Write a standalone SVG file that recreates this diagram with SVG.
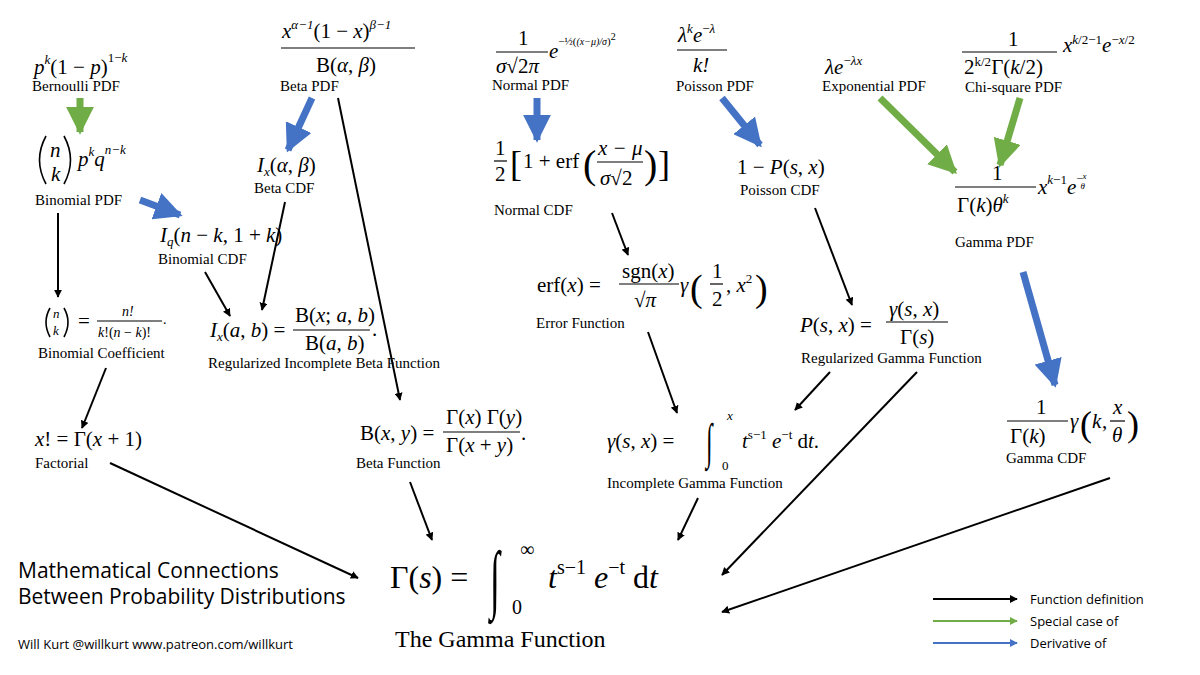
<svg xmlns="http://www.w3.org/2000/svg" width="1200" height="675" viewBox="0 0 1200 675">
<style>
.m{font-family:"Liberation Serif",serif;font-size:21px;fill:#000}
.i{font-style:italic}
.s{font-size:13px}
.l{font-family:"Liberation Serif",serif;font-size:15px;fill:#000}
.sans{font-family:"Open Sans","Liberation Sans",sans-serif;fill:#000}
.k{stroke:#000;stroke-width:2;fill:none}
.b{stroke:#4472c4;stroke-width:7;fill:none}
.g{stroke:#70ad47;stroke-width:7;fill:none}
.fr{stroke:#000;stroke-width:1.2}
.pr{stroke:#000;stroke-width:1.6;fill:none}
</style>
<defs>
<marker id="ak" viewBox="0 0 10 10" refX="9" refY="5" markerWidth="8" markerHeight="8" markerUnits="userSpaceOnUse" orient="auto"><path d="M0,0L10,5L0,10z" fill="#000"/></marker>
<marker id="ab" viewBox="0 0 10 10" refX="9" refY="5" markerWidth="4" markerHeight="4" orient="auto"><path d="M0,0L10,5L0,10z" fill="#4472c4"/></marker>
<marker id="ag" viewBox="0 0 10 10" refX="9" refY="5" markerWidth="4" markerHeight="4" orient="auto"><path d="M0,0L10,5L0,10z" fill="#70ad47"/></marker>
<marker id="akl" viewBox="0 0 10 10" refX="9" refY="5" markerWidth="8" markerHeight="8" markerUnits="userSpaceOnUse" orient="auto"><path d="M0,0L10,5L0,10z" fill="#70ad47"/></marker>
<marker id="abl" viewBox="0 0 10 10" refX="9" refY="5" markerWidth="8" markerHeight="8" markerUnits="userSpaceOnUse" orient="auto"><path d="M0,0L10,5L0,10z" fill="#4472c4"/></marker>
</defs>
<rect width="1200" height="675" fill="#fff"/>

<g id="connectors">
<line class="g" x1="80" y1="98" x2="80" y2="132" marker-end="url(#ag)"/>
<line class="b" x1="140" y1="200" x2="180" y2="215" marker-end="url(#ab)"/>
<line class="b" x1="312" y1="98" x2="288" y2="150" marker-end="url(#ab)"/>
<line class="b" x1="537" y1="98" x2="537" y2="140" marker-end="url(#ab)"/>
<line class="b" x1="722" y1="98" x2="760" y2="145" marker-end="url(#ab)"/>
<line class="g" x1="880" y1="98" x2="955" y2="172" marker-end="url(#ag)"/>
<line class="g" x1="1020" y1="98" x2="1000" y2="165" marker-end="url(#ag)"/>
<line class="b" x1="1023" y1="272" x2="1055" y2="385" marker-end="url(#ab)"/>
<line class="k" x1="58" y1="213" x2="58" y2="297" marker-end="url(#ak)"/>
<line class="k" x1="205" y1="272" x2="230" y2="316" marker-end="url(#ak)"/>
<line class="k" x1="285" y1="202" x2="262" y2="310" marker-end="url(#ak)"/>
<line class="k" x1="338" y1="98" x2="400" y2="400" marker-end="url(#ak)"/>
<line class="k" x1="106" y1="368" x2="82" y2="428" marker-end="url(#ak)"/>
<line class="k" x1="612" y1="213" x2="628" y2="255" marker-end="url(#ak)"/>
<line class="k" x1="648" y1="332" x2="677" y2="413" marker-end="url(#ak)"/>
<line class="k" x1="815" y1="208" x2="852" y2="305" marker-end="url(#ak)"/>
<line class="k" x1="830" y1="372" x2="795" y2="410" marker-end="url(#ak)"/>
<line class="k" x1="917" y1="372" x2="722" y2="575" marker-end="url(#ak)"/>
<line class="k" x1="698" y1="498" x2="678" y2="540" marker-end="url(#ak)"/>
<line class="k" x1="1110" y1="478" x2="722" y2="612" marker-end="url(#ak)"/>
<line class="k" x1="110" y1="463" x2="358" y2="578" marker-end="url(#ak)"/>
<line class="k" x1="410" y1="482" x2="432" y2="540" marker-end="url(#ak)"/>
</g>

<g id="bernoulli">
<text class="m" x="34" y="74"><tspan class="i">p</tspan><tspan class="i s" dy="-10">k</tspan><tspan dy="10">(1 − </tspan><tspan class="i">p</tspan><tspan>)</tspan><tspan class="s" dy="-12">1−</tspan><tspan class="s i">k</tspan></text>
<text class="l" x="32" y="91">Bernoulli PDF</text>
</g>
<g id="binomial-pdf">
<path class="pr" d="M46,136 Q33,160 46,184"/>
<text class="m i" x="50" y="157">n</text><text class="m i" x="51" y="181">k</text>
<path class="pr" d="M64,136 Q77,160 64,184"/>
<text class="m" x="78" y="166"><tspan class="i">p</tspan><tspan class="i s" dy="-10">k</tspan><tspan class="i" dy="10">q</tspan><tspan class="i s" dy="-12">n−k</tspan></text>
<text class="l" x="35" y="205">Binomial PDF</text>
</g>
<g id="binomial-cdf">
<text class="m" x="160" y="242"><tspan class="i">I</tspan><tspan class="i s" dy="4">q</tspan><tspan dy="-4">(</tspan><tspan class="i">n</tspan> − <tspan class="i">k</tspan>, 1 + <tspan class="i">k</tspan>)</text>
<text class="l" x="158" y="264">Binomial CDF</text>
</g>
<g id="beta-pdf">
<text class="m" x="282" y="38"><tspan class="i">x</tspan><tspan class="i s" dy="-9">α−1</tspan><tspan dy="9">(1 − </tspan><tspan class="i">x</tspan>)<tspan class="i s" dy="-9">β−1</tspan></text>
<line class="fr" x1="281" y1="48" x2="415" y2="48"/>
<text class="m" x="316" y="72">B(<tspan class="i">α</tspan>, <tspan class="i">β</tspan>)</text>
<text class="l" x="280" y="91">Beta PDF</text>
</g>
<g id="beta-cdf">
<text class="m" x="257" y="172"><tspan class="i">I</tspan><tspan class="i s" dy="4">x</tspan><tspan dy="-4">(</tspan><tspan class="i">α</tspan>, <tspan class="i">β</tspan>)</text>
<text class="l" x="254" y="193">Beta CDF</text>
</g>
<g id="binomial-coefficient">
<path class="pr" d="M50,308 Q42,322 50,337"/>
<text class="m i s" x="53" y="318">n</text><text class="m i s" x="53" y="335">k</text>
<path class="pr" d="M64,308 Q72,322 64,337"/>
<text class="m" x="78" y="328">=</text>
<text class="m i" x="122" y="316" style="font-size:14px">n!</text>
<line class="fr" x1="97" y1="321" x2="162" y2="321"/>
<text class="m" x="98" y="337" style="font-size:14px"><tspan class="i">k</tspan>!(<tspan class="i">n</tspan> − <tspan class="i">k</tspan>)!</text>
<text class="m" x="163" y="324" style="font-size:14px">.</text>
<text class="l" x="38" y="358">Binomial Coefficient</text>
</g>
<g id="reg-inc-beta">
<text class="m" x="210" y="337"><tspan class="i">I</tspan><tspan class="i s" dy="4">x</tspan><tspan dy="-4">(</tspan><tspan class="i">a</tspan>, <tspan class="i">b</tspan>) =</text>
<text class="m" x="295" y="322">B(<tspan class="i">x</tspan>; <tspan class="i">a</tspan>, <tspan class="i">b</tspan>)</text>
<line class="fr" x1="293" y1="330" x2="370" y2="330"/>
<text class="m" x="305" y="350">B(<tspan class="i">a</tspan>, <tspan class="i">b</tspan>)</text>
<text class="m" x="372" y="336">.</text>
<text class="l" x="208" y="368">Regularized Incomplete Beta Function</text>
</g>
<g id="factorial">
<text class="m" x="35" y="446"><tspan class="i">x</tspan>! = Γ(<tspan class="i">x</tspan> + 1)</text>
<text class="l" x="35" y="468">Factorial</text>
</g>
<g id="beta-function">
<text class="m" x="360" y="440">B(<tspan class="i">x</tspan>, <tspan class="i">y</tspan>) =</text>
<text class="m" x="446" y="424">Γ(<tspan class="i">x</tspan>) Γ(<tspan class="i">y</tspan>)</text>
<line class="fr" x1="443" y1="432" x2="520" y2="432"/>
<text class="m" x="446" y="452">Γ(<tspan class="i">x</tspan> + <tspan class="i">y</tspan>)</text>
<text class="m" x="521" y="440">.</text>
<text class="l" x="356" y="468">Beta Function</text>
</g>
<g id="normal-pdf">
<text class="m" x="518" y="45">1</text>
<line class="fr" x1="496" y1="52" x2="548" y2="52"/>
<text class="m" x="496" y="73"><tspan class="i">σ</tspan>√2<tspan class="i">π</tspan></text>
<text class="m" x="549" y="58"><tspan class="i">e</tspan><tspan style="font-size:11px" dy="-13">−½(</tspan><tspan class="i" style="font-size:10px">(x−μ)/σ</tspan><tspan style="font-size:11px">)</tspan><tspan style="font-size:10px" dy="-5">2</tspan></text>
<text class="l" x="492" y="90">Normal PDF</text>
</g>
<g id="normal-cdf">
<text class="m" x="495" y="155">1</text>
<line class="fr" x1="494" y1="161" x2="507" y2="161"/>
<text class="m" x="495" y="181">2</text>
<text class="m" x="510" y="176" style="font-size:36px">[</text>
<text class="m" x="523" y="168">1 + erf</text>
<text class="m" x="583" y="178" style="font-size:40px">(</text>
<text class="m i" x="598" y="155">x − μ</text>
<line class="fr" x1="597" y1="162" x2="643" y2="162"/>
<text class="m" x="600" y="185"><tspan class="i">σ</tspan>√2</text>
<text class="m" x="644" y="178" style="font-size:40px">)</text>
<text class="m" x="658" y="176" style="font-size:36px">]</text>
<text class="l" x="494" y="215">Normal CDF</text>
</g>
<g id="error-function">
<text class="m" x="537" y="292">erf(<tspan class="i">x</tspan>) =</text>
<text class="m" x="622" y="278">sgn(<tspan class="i">x</tspan>)</text>
<line class="fr" x1="619" y1="284" x2="679" y2="284"/>
<text class="m" x="634" y="307">√<tspan class="i">π</tspan></text>
<text class="m" x="680" y="292"><tspan class="i">γ</tspan></text>
<text class="m" x="690" y="301" style="font-size:38px">(</text>
<text class="m" x="712" y="278">1</text>
<line class="fr" x1="710" y1="284" x2="723" y2="284"/>
<text class="m" x="712" y="306">2</text>
<text class="m" x="726" y="292">, <tspan class="i">x</tspan><tspan class="s" dy="-9">2</tspan></text>
<text class="m" x="755" y="301" style="font-size:38px">)</text>
<text class="l" x="536" y="328">Error Function</text>
</g>
<g id="poisson-pdf">
<text class="m" x="678" y="42"><tspan class="i">λ</tspan><tspan class="i s" dy="-9">k</tspan><tspan class="i" dy="9">e</tspan><tspan class="s" dy="-9">−</tspan><tspan class="s i">λ</tspan></text>
<line class="fr" x1="677" y1="50" x2="727" y2="50"/>
<text class="m i" x="693" y="72">k!</text>
<text class="l" x="676" y="91">Poisson PDF</text>
</g>
<g id="poisson-cdf">
<text class="m" x="737" y="174">1 − <tspan class="i">P</tspan>(<tspan class="i">s</tspan>, <tspan class="i">x</tspan>)</text>
<text class="l" x="740" y="195">Poisson CDF</text>
</g>
<g id="reg-gamma">
<text class="m" x="800" y="332"><tspan class="i">P</tspan>(<tspan class="i">s</tspan>, <tspan class="i">x</tspan>) =</text>
<text class="m" x="889" y="316"><tspan class="i">γ</tspan>(<tspan class="i">s</tspan>, <tspan class="i">x</tspan>)</text>
<line class="fr" x1="886" y1="322" x2="948" y2="322"/>
<text class="m" x="900" y="344">Γ(<tspan class="i">s</tspan>)</text>
<text class="l" x="801" y="363">Regularized Gamma Function</text>
</g>
<g id="incomplete-gamma">
<text class="m" x="607" y="448"><tspan class="i">γ</tspan>(<tspan class="i">s</tspan>, <tspan class="i">x</tspan>) =</text>
<text class="m" transform="translate(706,458) scale(0.9,1.9)" style="font-size:26px">∫</text>
<text class="m i s" x="727" y="420">x</text>
<text class="m s" x="722" y="470">0</text>
<text class="m" x="742" y="448"><tspan class="i">t</tspan><tspan class="s" dy="-9">s−1</tspan><tspan dy="9"> </tspan><tspan class="i">e</tspan><tspan class="s" dy="-9">−t</tspan><tspan dy="9"> d</tspan><tspan class="i">t</tspan>.</text>
<text class="l" x="607" y="488">Incomplete Gamma Function</text>
</g>
<g id="exponential-pdf">
<text class="m" x="825" y="74"><tspan class="i">λe</tspan><tspan class="s" dy="-9">−</tspan><tspan class="s i">λx</tspan></text>
<text class="l" x="822" y="91">Exponential PDF</text>
</g>
<g id="chi-square-pdf">
<text class="m" x="1008" y="46">1</text>
<line class="fr" x1="962" y1="52" x2="1057" y2="52"/>
<text class="m" x="964" y="74">2<tspan class="s" dy="-8">k/2</tspan><tspan dy="8">Γ(</tspan><tspan class="i">k</tspan>/2)</text>
<text class="m" x="1063" y="52"><tspan class="i">x</tspan><tspan class="s i" dy="-8">k</tspan><tspan class="s" >/2−1</tspan><tspan class="i" dy="8">e</tspan><tspan class="s" dy="-8">−</tspan><tspan class="s i">x</tspan><tspan class="s">/2</tspan></text>
<text class="l" x="965" y="92">Chi-square PDF</text>
</g>
<g id="gamma-pdf">
<text class="m" x="992" y="180">1</text>
<line class="fr" x1="955" y1="187" x2="1036" y2="187"/>
<text class="m" x="957" y="212">Γ(<tspan class="i">k</tspan>)<tspan class="i">θ</tspan><tspan class="s i" dy="-9">k</tspan></text>
<text class="m" x="1038" y="194"><tspan class="i">x</tspan><tspan class="s" dy="-10"><tspan class="i">k</tspan>−1</tspan><tspan class="i" dy="10">e</tspan><tspan style="font-size:11px" dy="-12">−</tspan><tspan style="font-size:9px" class="i" dy="-3">x</tspan><tspan style="font-size:9px" class="i" dx="-6" dy="10">θ</tspan></text>
<text class="l" x="955" y="247">Gamma PDF</text>
</g>
<g id="gamma-cdf">
<text class="m" x="1036" y="414">1</text>
<line class="fr" x1="1007" y1="421" x2="1068" y2="421"/>
<text class="m" x="1010" y="443">Γ(<tspan class="i">k</tspan>)</text>
<text class="m" x="1070" y="428"><tspan class="i">γ</tspan></text>
<text class="m" x="1080" y="436" style="font-size:36px">(</text>
<text class="m i" x="1092" y="428">k</text><text class="m" x="1102" y="428">,</text>
<text class="m i" x="1113" y="414">x</text>
<line class="fr" x1="1110" y1="421" x2="1125" y2="421"/>
<text class="m i" x="1112" y="442">θ</text>
<text class="m" x="1127" y="436" style="font-size:36px">)</text>
<text class="l" x="1006" y="463">Gamma CDF</text>
</g>
<g id="gamma-function">
<text class="m" x="390" y="588" style="font-size:32px">Γ(<tspan class="i">s</tspan>) =</text>
<text class="m" transform="translate(490,604) scale(0.9,1.9)" style="font-size:40px">∫</text>
<text class="m" x="520" y="556" style="font-size:20px">∞</text>
<text class="m" x="512" y="614" style="font-size:20px">0</text>
<text class="m" x="548" y="588" style="font-size:32px"><tspan class="i">t</tspan><tspan style="font-size:20px" dy="-14">s−1</tspan><tspan dy="14"> </tspan><tspan class="i">e</tspan><tspan style="font-size:20px" dy="-14">−t</tspan><tspan dy="14"> d</tspan><tspan class="i">t</tspan></text>
<text class="m" x="395" y="647" style="font-size:24px">The Gamma Function</text>
</g>
<g id="title">
<text class="sans" x="18" y="578" font-size="21">Mathematical Connections</text>
<text class="sans" x="18" y="604" font-size="21">Between Probability Distributions</text>
<text class="sans" x="18" y="649" font-size="13">Will Kurt @willkurt www.patreon.com/willkurt</text>
</g>
<g id="legend">
<line class="k" x1="933" y1="599" x2="1017" y2="599" marker-end="url(#ak)"/>
<line x1="933" y1="621" x2="1017" y2="621" stroke="#70ad47" stroke-width="2" marker-end="url(#akl)"/>
<line x1="933" y1="643" x2="1017" y2="643" stroke="#4472c4" stroke-width="2" marker-end="url(#abl)"/>
<text class="sans" x="1030" y="604" font-size="13">Function definition</text>
<text class="sans" x="1030" y="626" font-size="13">Special case of</text>
<text class="sans" x="1030" y="648" font-size="13">Derivative of</text>
</g>
</svg>
